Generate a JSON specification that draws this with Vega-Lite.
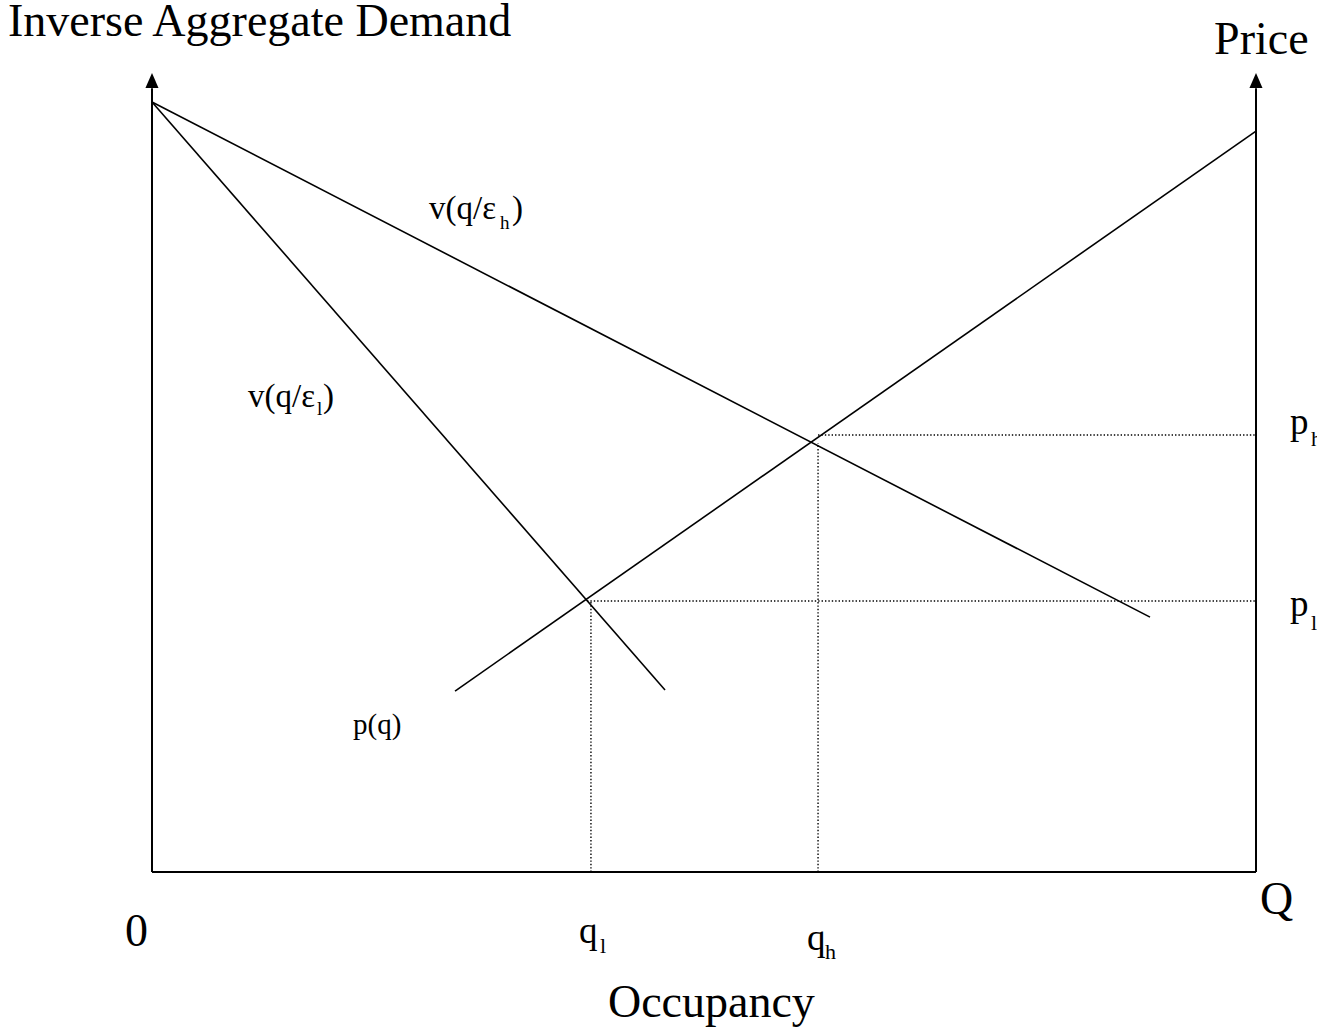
{
  "$schema": "https://vega.github.io/schema/vega-lite/v6.json",
  "width": 1317,
  "height": 1029,
  "autosize": {"type": "none"},
  "padding": 0,
  "background": "white",
  "config": {"view": {"stroke": null}},
  "datasets": {
    "segments": [
      {"name": "vertical axis", "kind": "axis", "x1": 0, "y1": 0, "x2": 0, "y2": 101.8},
      {"name": "price axis", "kind": "axis", "x1": 100, "y1": 0, "x2": 100, "y2": 101.8},
      {"name": "occupancy axis", "kind": "axis", "x1": 0, "y1": 0, "x2": 100, "y2": 0},
      {"name": "v(q/eh)", "kind": "curve", "x1": 0, "y1": 100, "x2": 90.4, "y2": 33.1},
      {"name": "v(q/el)", "kind": "curve", "x1": 0, "y1": 100, "x2": 46.47, "y2": 23.64},
      {"name": "p(q)", "kind": "curve", "x1": 27.45, "y1": 23.5, "x2": 100, "y2": 96.23},
      {"name": "p_h level", "kind": "guide", "x1": 60.33, "y1": 56.75, "x2": 100, "y2": 56.75},
      {"name": "p_l level", "kind": "guide", "x1": 39.4, "y1": 35.19, "x2": 100, "y2": 35.19},
      {"name": "q_h level", "kind": "guide", "x1": 60.33, "y1": 0, "x2": 60.33, "y2": 55.7},
      {"name": "q_l level", "kind": "guide", "x1": 39.76, "y1": 0, "x2": 39.76, "y2": 35.19}
    ],
    "arrows": [
      {"name": "left arrow", "x": 0, "y": 102.79},
      {"name": "right arrow", "x": 100, "y": 102.79}
    ],
    "texts": [
      {"kind": "title", "x": -13.04, "y": 108.57, "text": "Inverse Aggregate Demand"},
      {"kind": "title", "x": 96.2, "y": 106.23, "text": "Price"},
      {"kind": "title", "x": -2.45, "y": -9.61, "text": "0"},
      {"kind": "title", "x": 100.36, "y": -5.45, "text": "Q"},
      {"kind": "title", "x": 41.3, "y": -18.83, "text": "Occupancy"},
      {"kind": "label", "x": 38.68, "y": -9.22, "text": "q"},
      {"kind": "label", "x": 59.33, "y": -10.13, "text": "q"},
      {"kind": "label", "x": 103.08, "y": 56.88, "text": "p"},
      {"kind": "label", "x": 103.08, "y": 33.25, "text": "p"},
      {"kind": "sub", "x": 40.58, "y": -10.52, "text": "l"},
      {"kind": "sub", "x": 60.96, "y": -11.3, "text": "h"},
      {"kind": "sub", "x": 104.98, "y": 55.32, "text": "h"},
      {"kind": "sub", "x": 104.98, "y": 31.43, "text": "l"},
      {"kind": "curve", "x": 25.09, "y": 84.81, "text": "v(q/ε"},
      {"kind": "curve", "x": 32.61, "y": 84.81, "text": ")"},
      {"kind": "curve", "x": 8.7, "y": 60.39, "text": "v(q/ε"},
      {"kind": "curve", "x": 15.49, "y": 60.39, "text": ")"},
      {"kind": "cursub", "x": 31.52, "y": 83.51, "text": "h"},
      {"kind": "cursub", "x": 14.95, "y": 59.35, "text": "l"},
      {"kind": "small", "x": 18.21, "y": 17.92, "text": "p(q)"}
    ]
  },
  "layer": [
    {
      "data": {"name": "segments"},
      "transform": [{"filter": "datum.kind === 'guide'"}],
      "mark": {"type": "rule", "color": "black", "strokeWidth": 1.4, "strokeDash": [1.4, 2]},
      "encoding": {
        "x": {"field": "x1", "type": "quantitative", "scale": {"domain": [-13.768, 105.525], "nice": false, "zero": false}, "axis": null},
        "y": {"field": "y1", "type": "quantitative", "scale": {"domain": [-20.39, 113.25], "nice": false, "zero": false}, "axis": null},
        "x2": {"field": "x2"},
        "y2": {"field": "y2"}
      }
    },
    {
      "data": {"name": "segments"},
      "transform": [{"filter": "datum.kind === 'curve'"}],
      "mark": {"type": "rule", "color": "black", "strokeWidth": 1.6},
      "encoding": {
        "x": {"field": "x1", "type": "quantitative"},
        "y": {"field": "y1", "type": "quantitative"},
        "x2": {"field": "x2"},
        "y2": {"field": "y2"}
      }
    },
    {
      "data": {"name": "segments"},
      "transform": [{"filter": "datum.kind === 'axis'"}],
      "mark": {"type": "rule", "color": "black", "strokeWidth": 2},
      "encoding": {
        "x": {"field": "x1", "type": "quantitative"},
        "y": {"field": "y1", "type": "quantitative"},
        "x2": {"field": "x2"},
        "y2": {"field": "y2"}
      }
    },
    {
      "data": {"name": "arrows"},
      "mark": {"type": "point", "shape": "M0,-1L0.87,1L-0.87,1Z", "filled": true, "color": "black", "size": 225, "opacity": 1},
      "encoding": {
        "x": {"field": "x", "type": "quantitative"},
        "y": {"field": "y", "type": "quantitative"}
      }
    },
    {
      "data": {"name": "texts"},
      "transform": [{"filter": "datum.kind === 'title'"}],
      "mark": {"type": "text", "font": "Liberation Serif", "fontSize": 46, "align": "left", "baseline": "alphabetic", "color": "black"},
      "encoding": {
        "x": {"field": "x", "type": "quantitative"},
        "y": {"field": "y", "type": "quantitative"},
        "text": {"field": "text"}
      }
    },
    {
      "data": {"name": "texts"},
      "transform": [{"filter": "datum.kind === 'label'"}],
      "mark": {"type": "text", "font": "Liberation Serif", "fontSize": 37, "align": "left", "baseline": "alphabetic", "color": "black"},
      "encoding": {
        "x": {"field": "x", "type": "quantitative"},
        "y": {"field": "y", "type": "quantitative"},
        "text": {"field": "text"}
      }
    },
    {
      "data": {"name": "texts"},
      "transform": [{"filter": "datum.kind === 'sub'"}],
      "mark": {"type": "text", "font": "Liberation Serif", "fontSize": 22, "align": "left", "baseline": "alphabetic", "color": "black"},
      "encoding": {
        "x": {"field": "x", "type": "quantitative"},
        "y": {"field": "y", "type": "quantitative"},
        "text": {"field": "text"}
      }
    },
    {
      "data": {"name": "texts"},
      "transform": [{"filter": "datum.kind === 'curve'"}],
      "mark": {"type": "text", "font": "Liberation Serif", "fontSize": 33, "align": "left", "baseline": "alphabetic", "color": "black"},
      "encoding": {
        "x": {"field": "x", "type": "quantitative"},
        "y": {"field": "y", "type": "quantitative"},
        "text": {"field": "text"}
      }
    },
    {
      "data": {"name": "texts"},
      "transform": [{"filter": "datum.kind === 'cursub'"}],
      "mark": {"type": "text", "font": "Liberation Serif", "fontSize": 19, "align": "left", "baseline": "alphabetic", "color": "black"},
      "encoding": {
        "x": {"field": "x", "type": "quantitative"},
        "y": {"field": "y", "type": "quantitative"},
        "text": {"field": "text"}
      }
    },
    {
      "data": {"name": "texts"},
      "transform": [{"filter": "datum.kind === 'small'"}],
      "mark": {"type": "text", "font": "Liberation Serif", "fontSize": 29, "align": "left", "baseline": "alphabetic", "color": "black"},
      "encoding": {
        "x": {"field": "x", "type": "quantitative"},
        "y": {"field": "y", "type": "quantitative"},
        "text": {"field": "text"}
      }
    }
  ]
}
